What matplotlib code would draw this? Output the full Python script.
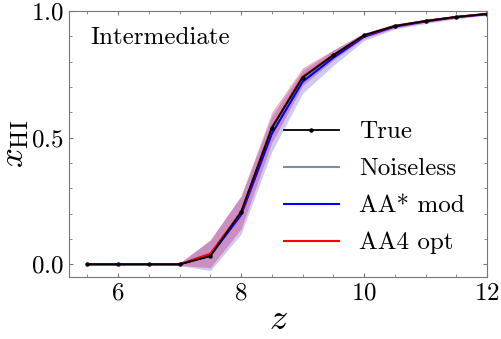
import numpy as np
import matplotlib
matplotlib.use("Agg")
import matplotlib.pyplot as plt

plt.rcParams["font.family"] = "serif"
plt.rcParams["font.serif"] = ["cmr10"]
plt.rcParams["mathtext.fontset"] = "cm"
plt.rcParams["axes.formatter.use_mathtext"] = True

z = [5.5, 6.0, 6.5, 7.0, 7.5, 8.0, 8.5, 9.0, 9.5, 10.0, 10.5, 11.0, 11.5, 12.0]
x_true = [0.0, 0.0, 0.0, 0.0, 0.032, 0.207, 0.538, 0.737, 0.825, 0.904, 0.94, 0.96, 0.976, 0.988]
x_noiseless = [0.0, 0.0, 0.0, 0.0, 0.034, 0.203, 0.53, 0.73, 0.822, 0.903, 0.94, 0.96, 0.976, 0.988]
x_aa_mod = [0.0, 0.0, 0.0, 0.0, 0.035, 0.195, 0.515, 0.72, 0.815, 0.898, 0.938, 0.958, 0.975, 0.987]
aa_mod_err = [0.003, 0.003, 0.003, 0.005, 0.06, 0.075, 0.07, 0.045, 0.03, 0.015, 0.01, 0.008, 0.006, 0.005]
x_aa4_opt = [0.0, 0.0, 0.0, 0.0, 0.042, 0.205, 0.54, 0.74, 0.826, 0.902, 0.94, 0.96, 0.976, 0.988]
aa4_opt_err = [0.003, 0.003, 0.003, 0.005, 0.055, 0.065, 0.06, 0.035, 0.02, 0.01, 0.008, 0.006, 0.005, 0.004]

z = np.array(z)
fig = plt.figure(figsize=(5.01, 3.39), dpi=100)
ax = fig.add_axes([0.1377, 0.183, 0.8343, 0.785])

m = np.array(x_aa_mod); e = np.array(aa_mod_err)
ax.fill_between(z, m - e, m + e, color="#8a8ae8", alpha=0.45, lw=0)
m = np.array(x_aa4_opt); e = np.array(aa4_opt_err)
ax.fill_between(z, m - e, m + e, color="#d02060", alpha=0.35, lw=0)

ax.plot(z, x_noiseless, color="#7f8c9c", lw=1.5, label="Noiseless")
ax.plot(z, x_aa_mod, color="blue", lw=1.5, label="AA* mod")
ax.plot(z, x_aa4_opt, color="red", lw=1.5, label="AA4 opt")
ax.plot(z, x_true, color="black", lw=1.3, marker="o", ms=2.2, label="True")

ax.set_xlim(5.2, 12)
ax.set_ylim(-0.05, 1.0)
ax.set_xticks([6, 8, 10, 12])
ax.set_xticks(np.arange(5.5, 12.01, 0.5), minor=True)
ax.set_yticks([0.0, 0.5, 1.0])
ax.set_yticks(np.arange(0, 1.001, 0.1), minor=True)
ax.tick_params(which="both", direction="in", top=True, right=True,
               labelsize=18, color="#777777", pad=4)
ax.tick_params(which="major", length=3)
ax.tick_params(which="minor", length=2)
for s in ax.spines.values():
    s.set_color("#777777")

ax.set_xlabel(r"$z$", fontsize=26, labelpad=0)
ax.set_ylabel(r"$x_{\rm HI}$", fontsize=25, labelpad=0)
ax.text(0.05, 0.9, "Intermediate", transform=ax.transAxes, fontsize=18, va="center")

h, l = ax.get_legend_handles_labels()
order = [3, 0, 1, 2]
ax.legend([h[i] for i in order], [l[i] for i in order], loc="lower right",
          frameon=False, fontsize=18, handlelength=2.2, numpoints=1,
          labelspacing=0.58, handletextpad=0.8, bbox_to_anchor=(1.0, 0.0))

fig.savefig("out.png", dpi=100)
